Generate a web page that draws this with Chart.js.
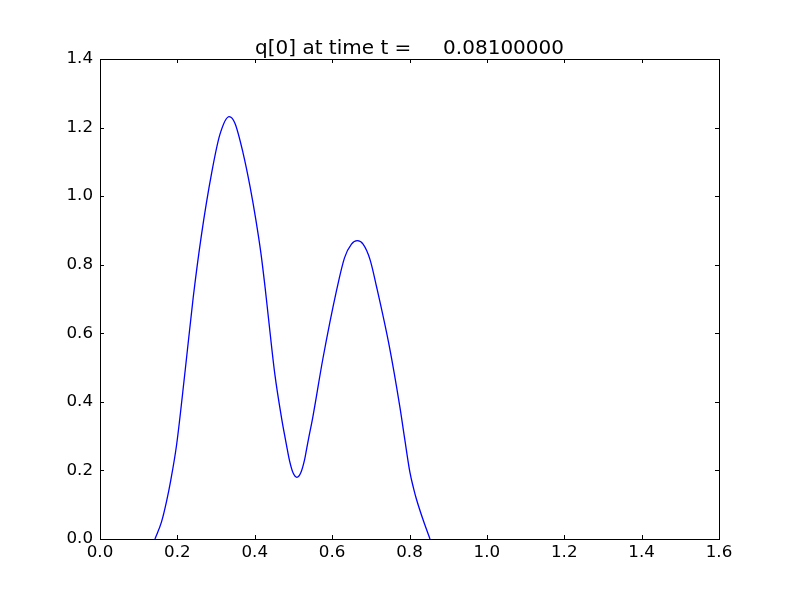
<!DOCTYPE html>
<html>
<head>
<meta charset="utf-8">
<script src="https://cdn.jsdelivr.net/npm/chart.js@4"></script>
<style>
  body { margin: 0; background: #fff; }
  #wrap { width: 800px; height: 600px; }
</style>
</head>
<body>
<div id="wrap"><canvas id="qChart" width="800" height="600"></canvas></div>
<script>
// values
var xs = [0.142, 0.159, 0.172, 0.183, 0.198, 0.220, 0.241, 0.262, 0.289, 0.310,
          0.334, 0.349, 0.370, 0.388, 0.403, 0.416, 0.4265, 0.4355, 0.452, 0.469,
          0.479, 0.484, 0.490, 0.499, 0.509, 0.519, 0.529, 0.534, 0.539, 0.550,
          0.576, 0.612, 0.632, 0.650, 0.665, 0.680, 0.698, 0.715, 0.748, 0.775,
          0.788, 0.801, 0.810, 0.818, 0.836, 0.853];
var qs = [0, 0.050, 0.110, 0.172, 0.275, 0.490, 0.705, 0.885, 1.070, 1.180,
          1.232, 1.212, 1.125, 1.027, 0.930, 0.833, 0.736, 0.644, 0.480, 0.355,
          0.292, 0.262, 0.228, 0.193, 0.180, 0.193, 0.232, 0.262, 0.292, 0.355,
          0.525, 0.728, 0.820, 0.860, 0.870, 0.860, 0.815, 0.735, 0.561, 0.386,
          0.289, 0.195, 0.150, 0.116, 0.053, 0];
var xTicks = [0.0, 0.2, 0.4, 0.6, 0.8, 1.0, 1.2, 1.4, 1.6];
var yTicks = [0.0, 0.2, 0.4, 0.6, 0.8, 1.0, 1.2, 1.4];
var titleText = 'q[0] at time t =     0.08100000';

var points = xs.map(function (x, i) { return { x: x, y: qs[i] }; });

// matplotlib style frame with inward ticks on all four sides
var framePlugin = {
    id: 'frame',
    afterDraw: function (chart) {
        var c = chart.ctx, a = chart.chartArea;
        var sx = chart.scales.x, sy = chart.scales.y;
        c.save();
        c.strokeStyle = '#000';
        c.lineWidth = 1;
        c.beginPath();
        xTicks.forEach(function (v) {
            var p = Math.round(sx.getPixelForValue(v)) + 0.5;
            c.moveTo(p, a.bottom); c.lineTo(p, a.bottom - 4);
            c.moveTo(p, a.top); c.lineTo(p, a.top + 4);
        });
        yTicks.forEach(function (v) {
            var p = Math.round(sy.getPixelForValue(v)) + 0.5;
            c.moveTo(a.left, p); c.lineTo(a.left + 4, p);
            c.moveTo(a.right, p); c.lineTo(a.right - 4, p);
        });
        c.stroke();
        c.strokeRect(Math.round(a.left) + 0.5, Math.round(a.top) + 0.5,
            Math.round(a.right - a.left), Math.round(a.bottom - a.top));
        c.restore();
    }
};

var ctx = document.getElementById('qChart').getContext('2d');
var chart = new Chart(ctx, {
    type: 'line',
    data: {
        datasets: [{
            label: 'q[0]',
            data: points,
            borderColor: '#0000ff',
            borderWidth: 1.3,
            pointRadius: 0,
            fill: false,
            cubicInterpolationMode: 'monotone'
        }]
    },
    options: {
        responsive: false,
        animation: false,
        layout: { padding: { left: 0, right: 81, top: 0, bottom: 0 } },
        plugins: {
            legend: { display: false },
            tooltip: { enabled: false },
            title: {
                display: true,
                fullSize: false,
                text: titleText,
                color: '#000',
                font: { family: 'DejaVu Sans', size: 20, weight: 'normal', lineHeight: 1 },
                padding: { top: 39, bottom: 0 }
            }
        },
        scales: {
            x: {
                type: 'linear',
                min: 0, max: 1.6,
                afterFit: function (s) { s.height = 61; },
                afterBuildTicks: function (s) { s.ticks = xTicks.map(function (v) { return { value: v }; }); },
                grid: { display: false, drawTicks: false },
                border: { display: false },
                ticks: {
                    padding: 4,
                    color: '#000',
                    maxRotation: 0,
                    font: { family: 'DejaVu Sans', size: 16.7 },
                    callback: function (v) { return v.toFixed(1); }
                }
            },
            y: {
                type: 'linear',
                min: 0, max: 1.4,
                afterFit: function (s) { s.width = 100; },
                afterBuildTicks: function (s) { s.ticks = yTicks.map(function (v) { return { value: v }; }); },
                grid: { display: false, drawTicks: false },
                border: { display: false },
                ticks: {
                    padding: 7,
                    color: '#000',
                    font: { family: 'DejaVu Sans', size: 16.7 },
                    callback: function (v) { return v.toFixed(1); }
                }
            }
        }
    },
    plugins: [framePlugin]
});
</script>
</body>
</html>
